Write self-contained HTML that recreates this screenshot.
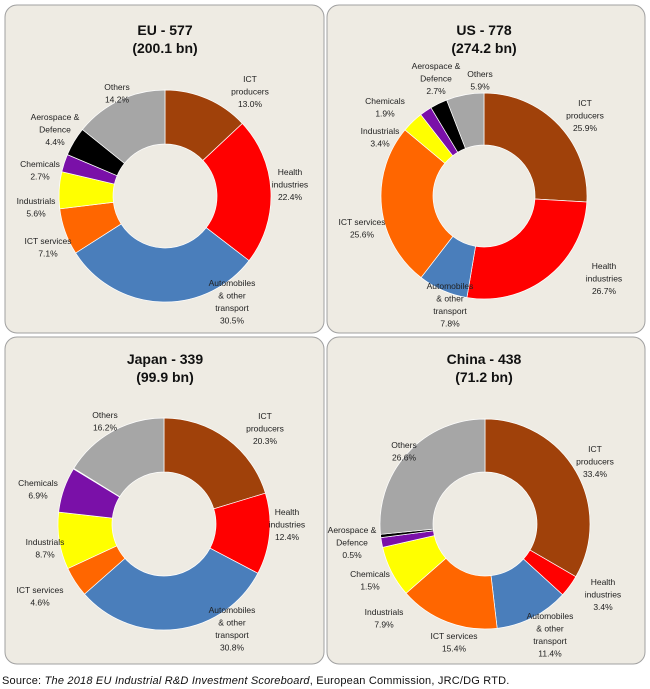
<!DOCTYPE html>
<html><head><meta charset="utf-8"><style>
body{margin:0;background:#fff;width:650px;height:689px;overflow:hidden;font-family:"Liberation Sans",sans-serif}
svg{position:absolute;left:0;top:0}
.lbl{font-size:8.5px;fill:#222;text-anchor:middle}
.ttl{font-size:14px;font-weight:bold;fill:#111;text-anchor:middle}
#src{position:absolute;left:2px;top:675px;font-size:11px;letter-spacing:0.2px;color:#111}
</style></head><body>
<svg id="chart" width="650" height="689">
<rect x="5" y="5" width="319" height="328" rx="12" fill="#eeebe3" stroke="#a0a0a0"/>
<rect x="327" y="5" width="318" height="328" rx="12" fill="#eeebe3" stroke="#a0a0a0"/>
<rect x="5" y="337" width="319" height="327" rx="12" fill="#eeebe3" stroke="#a0a0a0"/>
<rect x="327" y="337" width="318" height="327" rx="12" fill="#eeebe3" stroke="#a0a0a0"/>
<g id="marks"></g>
<g>
<text class="ttl" x="165" y="35">EU - 577</text>
<text class="ttl" x="165" y="53">(200.1 bn)</text>
<text class="ttl" x="484" y="35">US  - 778</text>
<text class="ttl" x="484" y="53">(274.2 bn)</text>
<text class="ttl" x="165" y="364">Japan - 339</text>
<text class="ttl" x="165" y="382">(99.9 bn)</text>
<text class="ttl" x="484" y="364">China - 438</text>
<text class="ttl" x="484" y="382">(71.2 bn)</text>
</g>
<g id="labels"></g>
</svg>
<div id="src">Source: <i>The 2018 EU Industrial R&amp;D Investment Scoreboard</i>, European Commission, JRC/DG RTD.</div>
<script>
const categories = ["ICT producers","Health industries","Automobiles & other transport","ICT services","Industrials","Chemicals","Aerospace & Defence","Others"];
const euValues = [13.0,22.4,30.5,7.1,5.6,2.7,4.4,14.2];
const usValues = [25.9,26.7,7.8,25.6,3.4,1.9,2.7,5.9];
const japanValues = [20.3,12.4,30.8,4.6,8.7,6.9,0.1,16.2];
const chinaValues = [33.4,3.4,11.4,15.4,7.9,1.5,0.5,26.6];
const colors = ["#a0410a","#ff0000","#4a7ebb","#ff6600","#ffff00","#7a10a8","#000000","#a6a6a6"];
const NS="http://www.w3.org/2000/svg";
const marks=document.getElementById('marks');
function pt(cx,cy,r,a){return [cx+r*Math.sin(a),cy-r*Math.cos(a)];}
function donut(name,vals,cx,cy,R,r){
  const tot=vals.reduce((a,b)=>a+b,0);
  let acc=0;
  vals.forEach((v,i)=>{
    const a0=acc/tot*2*Math.PI; acc+=v; const a1=acc/tot*2*Math.PI;
    const large=(a1-a0)>Math.PI?1:0;
    const p0=pt(cx,cy,R,a0),p1=pt(cx,cy,R,a1),q1=pt(cx,cy,r,a1),q0=pt(cx,cy,r,a0);
    const p=document.createElementNS(NS,'path');
    p.setAttribute('d',`M${p0[0]},${p0[1]}A${R},${R} 0 ${large} 1 ${p1[0]},${p1[1]}L${q1[0]},${q1[1]}A${r},${r} 0 ${large} 0 ${q0[0]},${q0[1]}Z`);
    p.setAttribute('fill',colors[i]);
    p.setAttribute('stroke','#ffffff');
    p.setAttribute('stroke-width','0.7');
    
    
    marks.appendChild(p);
  });
}
donut('eu',euValues,165,196,106,52);
donut('us',usValues,484,196,103,51);
donut('japan',japanValues,164,524,106,52);
donut('china',chinaValues,485,524,105,52);
const labelsG=document.getElementById('labels');
function lab(name,x,y,lines){
  lines.forEach((t,k)=>{
    const e=document.createElementNS(NS,'text');
    e.setAttribute('class','lbl');
    e.setAttribute('x',x);e.setAttribute('y',y+k*12.5);
    e.textContent=t;
    
    
    labelsG.appendChild(e);
  });
}
const f=v=>v.toFixed(1)+'%';
lab('eu-label-ict-producers',250,82,['ICT','producers',f(euValues[0])]);
lab('eu-label-health',290,175,['Health','industries',f(euValues[1])]);
lab('eu-label-automobiles',232,286,['Automobiles','& other','transport',f(euValues[2])]);
lab('eu-label-ict-services',48,244,['ICT services',f(euValues[3])]);
lab('eu-label-industrials',36,204,['Industrials',f(euValues[4])]);
lab('eu-label-chemicals',40,167,['Chemicals',f(euValues[5])]);
lab('eu-label-aerospace',55,120,['Aerospace  &','Defence',f(euValues[6])]);
lab('eu-label-others',117,90,['Others',f(euValues[7])]);
lab('us-label-ict-producers',585,106,['ICT','producers',f(usValues[0])]);
lab('us-label-health',604,269,['Health','industries',f(usValues[1])]);
lab('us-label-automobiles',450,289,['Automobiles','& other','transport',f(usValues[2])]);
lab('us-label-ict-services',362,225,['ICT services',f(usValues[3])]);
lab('us-label-industrials',380,134,['Industrials',f(usValues[4])]);
lab('us-label-chemicals',385,104,['Chemicals',f(usValues[5])]);
lab('us-label-aerospace',436,69,['Aerospace  &','Defence',f(usValues[6])]);
lab('us-label-others',480,77,['Others',f(usValues[7])]);
lab('japan-label-ict-producers',265,419,['ICT','producers',f(japanValues[0])]);
lab('japan-label-health',287,515,['Health','industries',f(japanValues[1])]);
lab('japan-label-automobiles',232,613,['Automobiles','& other','transport',f(japanValues[2])]);
lab('japan-label-ict-services',40,593,['ICT services',f(japanValues[3])]);
lab('japan-label-industrials',45,545,['Industrials',f(japanValues[4])]);
lab('japan-label-chemicals',38,486,['Chemicals',f(japanValues[5])]);
lab('japan-label-others',105,418,['Others',f(japanValues[7])]);
lab('china-label-ict-producers',595,452,['ICT','producers',f(chinaValues[0])]);
lab('china-label-health',603,585,['Health','industries',f(chinaValues[1])]);
lab('china-label-automobiles',550,619,['Automobiles','& other','transport',f(chinaValues[2])]);
lab('china-label-ict-services',454,639,['ICT services',f(chinaValues[3])]);
lab('china-label-industrials',384,615,['Industrials',f(chinaValues[4])]);
lab('china-label-chemicals',370,577,['Chemicals',f(chinaValues[5])]);
lab('china-label-aerospace',352,533,['Aerospace  &','Defence',f(chinaValues[6])]);
lab('china-label-others',404,448,['Others',f(chinaValues[7])]);
</script>
</body></html>
